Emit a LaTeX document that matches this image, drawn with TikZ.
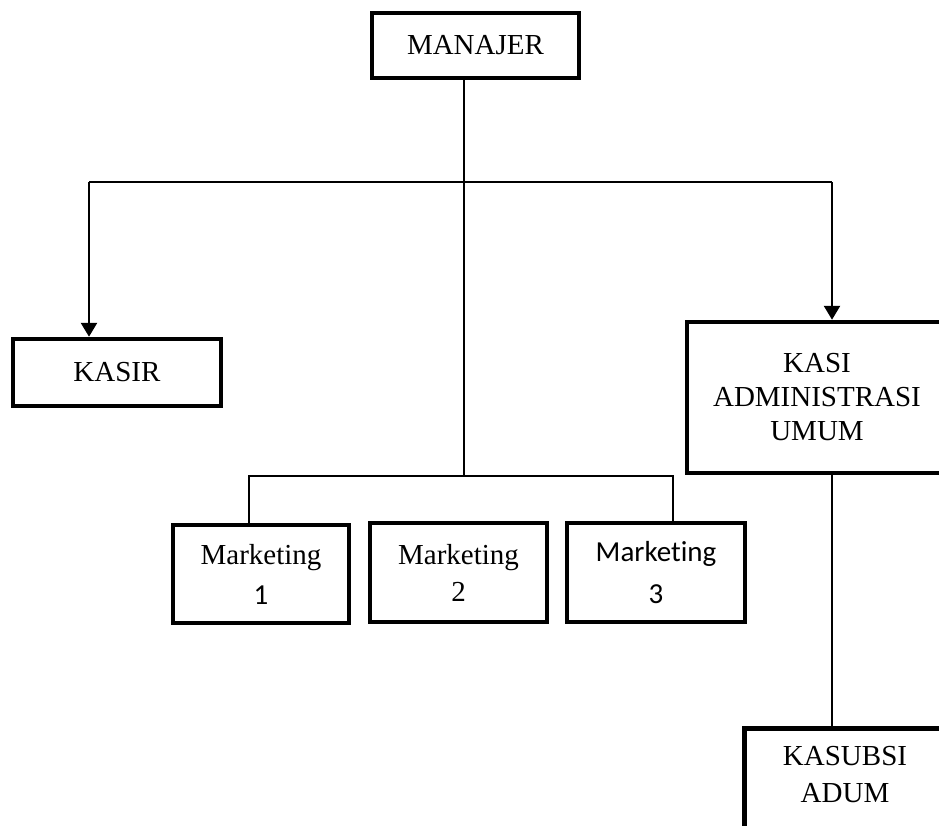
\documentclass[tikz,border=0pt]{standalone}
\usepackage{fontspec}
\setmainfont{Liberation Serif}
\newfontfamily\calib[Ligatures=NoCommon]{Carlito}
\usetikzlibrary{arrows.meta}
\begin{document}
\begin{tikzpicture}[x=1pt,y=-1pt,
  orgbox/.style={draw, line width=4.5pt, inner sep=0pt, align=center,
    font=\fontsize{29}{34}\selectfont},
  boxtext/.style={inner sep=0pt, align=center, font=\fontsize{29}{37}\selectfont},
  conn/.style={line width=2.2pt},
  arr/.style={line width=2.6pt, -{Triangle[width=16pt,length=14pt]}}]
\useasboundingbox (0,0) rectangle (939,825);
\clip (0,0) rectangle (939,825);
% boxes
\node[orgbox, minimum width=207pt, minimum height=65pt] (manajer) at (475.5,45.5) {MANAJER};
\node[orgbox, minimum width=208pt, minimum height=67pt] (kasir) at (117,372.5) {KASIR};
\node[orgbox, minimum width=260pt, minimum height=151pt] (kasi) at (817,397.5) {KASI\\ADMINISTRASI\\UMUM};
\node[orgbox, minimum width=176pt, minimum height=98pt, font=\fontsize{29}{40}\selectfont] (m1) at (261,574) {Marketing\\{\calib 1}};
\node[orgbox, minimum width=177pt, minimum height=99pt, font=\fontsize{29}{37}\selectfont] (m2) at (458.5,572.5) {Marketing\\2};
\node[orgbox, minimum width=178pt, minimum height=99pt, font=\fontsize{29}{42}\selectfont] (m3) at (656,572.5) {{\calib Marketing}\\{\calib 3}};
\node[orgbox, minimum width=206pt, minimum height=140pt, anchor=north west] (kasubsi) at (742,726) {};
\node[boxtext, anchor=north] (kasubsitxt) at (845,746) {KASUBSI\\ADUM};
% junction coordinates
\coordinate (j1) at (464,182);
\coordinate (j2) at (464,476);
\coordinate (hl) at (89,182);
\coordinate (hr) at (832,182);
\coordinate (ml) at (249,476);
\coordinate (mr) at (673,476);
% connectors
\draw[conn] (manajer.south -| j1) -- (j2);
\draw[line width=2.6pt] (hl) -- (hr);
\draw[arr] (hl) -- (kasir.north -| hl);
\draw[arr] (hr) -- (kasi.north -| hr);
\draw[conn] (m1.north -| ml) -- (ml) -- (mr) -- (m3.north -| mr);
\draw[conn] (kasi.south -| hr) -- (kasubsi.north -| hr);
\end{tikzpicture}
\end{document}
